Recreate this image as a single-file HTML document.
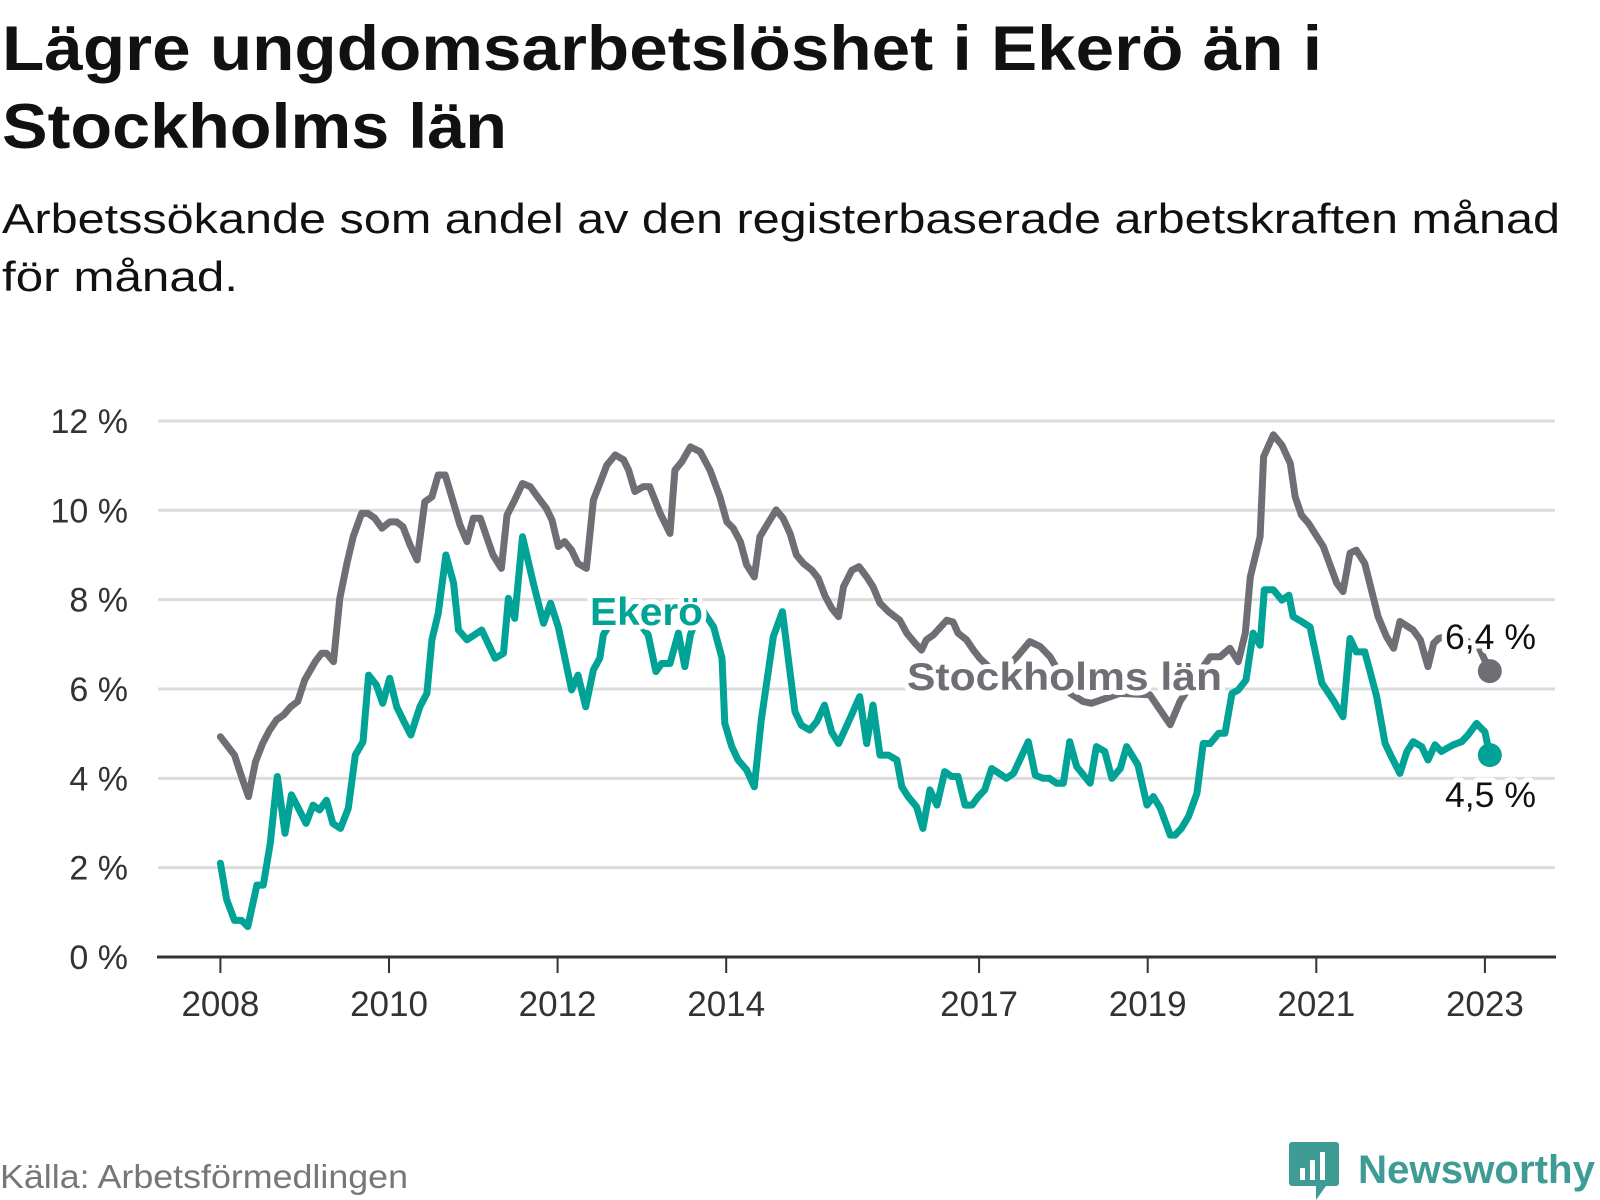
<!DOCTYPE html>
<html><head><meta charset="utf-8"><style>
html,body{margin:0;padding:0;background:#fff;}
svg{display:block;font-family:"Liberation Sans","DejaVu Sans",sans-serif;}
</style></head><body>
<svg id="chart" width="1600" height="1200" viewBox="0 0 1600 1200">
<text x="2" y="70" font-size="63" font-weight="bold" fill="#111" textLength="1320" lengthAdjust="spacingAndGlyphs">Lägre ungdomsarbetslöshet i Ekerö än i</text>
<text x="2" y="148" font-size="63" font-weight="bold" fill="#111" textLength="505" lengthAdjust="spacingAndGlyphs">Stockholms län</text>
<text x="2" y="233" font-size="42" fill="#111" textLength="1558" lengthAdjust="spacingAndGlyphs">Arbetssökande som andel av den registerbaserade arbetskraften månad</text>
<text x="2" y="291" font-size="42" fill="#111" textLength="236" lengthAdjust="spacingAndGlyphs">för månad.</text>
<g id="grid"></g>
<g id="xaxis"></g>
<g id="series"></g>
<g id="labels"></g>
<text x="0" y="1188" font-size="33" fill="#777" textLength="408" lengthAdjust="spacingAndGlyphs">Källa: Arbetsförmedlingen</text>
<g>
<path d="M1292 1142 h44 a3 3 0 0 1 3 3 v38 a3 3 0 0 1 -3 3 h-10 l-10 14 v-14 h-24 a3 3 0 0 1 -3 -3 v-38 a3 3 0 0 1 3 -3z" fill="#3e9c94"/>
<rect x="1300" y="1168" width="5" height="12" fill="#fff"/>
<rect x="1310" y="1160" width="5" height="20" fill="#fff"/>
<rect x="1320" y="1152" width="5" height="28" fill="#fff"/>
<text x="1358" y="1183" font-size="40" font-weight="bold" fill="#3e9c94" textLength="237" lengthAdjust="spacingAndGlyphs">Newsworthy</text>
</g>
</svg>
<script>
// ---- data ----
const yTicks = [0, 2, 4, 6, 8, 10, 12];
const yTickLabels = ["0 %", "2 %", "4 %", "6 %", "8 %", "10 %", "12 %"];
const xTickYears = [2008, 2010, 2012, 2014, 2017, 2019, 2021, 2023];
const xTickLabels = ["2008", "2010", "2012", "2014", "2017", "2019", "2021", "2023"];
// months since Jan 2008
const stockholmMonths = [0,2,3,4,5,6,7,8,9,10,11,12,13.5,14.4,15.1,16.1,17,18,18.9,20.1,21,22,23,24.1,25.1,26,27,28,29.1,30.1,31,32,33.2,34.1,35.1,36,37,37.9,38.8,40,40.8,41.9,43,44.1,45.3,46.4,47.2,48.1,49,50,50.9,52.1,53.1,54,55,56.2,57.4,58.1,59,60.2,61.1,62.6,64,64.7,65.7,66.9,68.3,69.7,71.1,72.1,73,74,74.9,76,76.8,77.8,79.1,80.1,81.1,82,83,84.2,85.1,86.1,87,88,88.7,89.9,90.9,92,92.9,93.9,95.1,96.7,97.7,98.9,99.8,100.5,101.5,103.4,104.3,105,106.2,107.2,108.1,110,112,113.4,115.2,116.7,118.1,120,121,122.8,124,128,132.3,135.2,136.6,139,140.9,142.3,143.7,144.9,145.9,146.6,148,148.5,149.9,151.1,152.3,153,153.9,154.9,156.1,157,158.9,159.8,160.8,161.7,162.9,164.8,166,167,167.9,169.8,170.8,171.9,172.7,173.4,175,177,179.1,180.7];
const stockholmValues = [4.93,4.52,4.04,3.59,4.37,4.78,5.08,5.31,5.42,5.6,5.72,6.2,6.61,6.8,6.8,6.61,8.03,8.81,9.41,9.93,9.93,9.82,9.6,9.74,9.74,9.63,9.22,8.89,10.19,10.3,10.79,10.79,10.16,9.67,9.3,9.82,9.82,9.41,9.0,8.7,9.89,10.23,10.6,10.53,10.27,10.04,9.78,9.19,9.3,9.11,8.81,8.7,10.23,10.6,11.01,11.24,11.13,10.9,10.42,10.53,10.53,9.93,9.48,10.9,11.09,11.42,11.31,10.9,10.3,9.74,9.6,9.3,8.78,8.51,9.41,9.67,10.01,9.82,9.48,9.0,8.81,8.66,8.48,8.07,7.81,7.62,8.29,8.66,8.74,8.51,8.29,7.92,7.73,7.54,7.25,7.02,6.87,7.1,7.21,7.54,7.5,7.25,7.1,6.87,6.69,6.4,6.5,6.72,7.06,6.95,6.72,6.2,5.9,5.72,5.68,5.9,5.87,5.2,5.72,6.3,6.72,6.72,6.91,6.61,7.25,8.51,9.41,11.2,11.69,11.46,11.05,10.3,9.89,9.71,9.41,9.19,8.37,8.18,9.04,9.11,8.81,7.62,7.17,6.91,7.51,7.32,7.1,6.5,7.02,7.13,7.2,7.1,6.95,6.4];
const ekeroMonths = [0,0.9,2,3,3.9,5.2,6.1,7.1,8.1,9.2,10.1,11.1,12.2,13.2,14.1,15.1,16,17.1,18.2,19.2,20.3,21.1,22.2,23.1,24.1,25.1,26,27.1,28.4,29.4,30.1,31,32.1,33.2,33.9,35.1,37.2,39.1,40.3,41,41.9,43,44.5,46,47,48.1,50,50.9,52,53.1,54,54.5,56,58,60.9,62,62.8,64,65.2,66.1,66.9,68.3,70.2,71.4,71.8,72.8,73.7,74.9,76,77,78.7,80,81.8,82.7,83.9,84.9,86,87,88,89.2,91,92,92.9,93.9,95.1,96.3,97,97.9,99.1,100,101,102,103.1,104.1,105,106,107,107.9,108.8,109.8,111.9,112.9,115,116,117.1,118,119,120,120.9,121.9,123.8,124.7,125.9,126.9,128.1,129,130.6,131.9,132.8,133.8,135.2,135.9,136.8,137.8,139,139.9,140.9,142.1,143,144,144.9,146,147,148,148.6,149.9,151.1,152.1,152.7,153.9,155.1,156.8,158.4,159.8,160.8,161.7,162.9,164.6,165.8,166.7,167.9,168.9,169.8,171,171.9,172.9,173.8,175.5,176.7,177.6,178.8,180,180.7];
const ekeroValues = [2.1,1.28,0.82,0.82,0.68,1.61,1.61,2.55,4.04,2.77,3.63,3.33,2.99,3.4,3.29,3.51,2.99,2.88,3.33,4.52,4.82,6.31,6.09,5.68,6.24,5.6,5.31,4.97,5.6,5.9,7.1,7.69,9.0,8.37,7.32,7.1,7.32,6.69,6.8,8.03,7.58,9.41,8.4,7.47,7.92,7.39,5.98,6.31,5.6,6.43,6.69,7.21,7.6,7.8,7.21,6.39,6.57,6.57,7.25,6.5,7.21,7.84,7.39,6.69,5.23,4.71,4.41,4.19,3.81,5.31,7.17,7.73,5.49,5.19,5.08,5.27,5.64,5.04,4.78,5.19,5.83,4.78,5.64,4.52,4.52,4.41,3.81,3.59,3.36,2.88,3.74,3.4,4.15,4.04,4.04,3.4,3.4,3.59,3.74,4.22,4.0,4.11,4.82,4.07,4.0,4.0,3.89,3.89,4.82,4.26,3.89,4.71,4.6,4.0,4.22,4.71,4.3,3.4,3.59,3.33,2.73,2.73,2.88,3.14,3.66,4.78,4.78,5.01,5.01,5.9,5.98,6.2,7.25,6.98,8.22,8.22,7.99,8.1,7.62,7.51,7.39,6.13,5.75,5.38,7.13,6.83,6.83,5.83,4.78,4.48,4.11,4.6,4.82,4.71,4.41,4.75,4.6,4.75,4.82,4.97,5.23,5.04,4.52];
const lastLabels = ["6,4 %", "4,5 %"];

// ---- axes ----
const X0 = 220.4, PX_YEAR = 84.3, Y0 = 957, PX_PCT = 44.67;
const xYear = y => X0 + (y - 2008) * PX_YEAR;
const xMonth = m => X0 + m * PX_YEAR / 12;
const yVal = v => Y0 - v * PX_PCT;
const NS = "http://www.w3.org/2000/svg";
function mk(tag, attrs, parent) {
  const e = document.createElementNS(NS, tag);
  for (const k in attrs) e.setAttribute(k, attrs[k]);
  parent.appendChild(e);
  return e;
}
const grid = document.getElementById("grid");
yTicks.forEach((t, i) => {
  if (t > 0) {
    const l = mk("line", {x1: 158, x2: 1555, y1: yVal(t), y2: yVal(t), stroke: "#dcdcdc", "stroke-width": 3}, grid);
    
    
  }
  const tx = mk("text", {x: 128, y: yVal(t) + 12, "font-size": 34, fill: "#333", "text-anchor": "end"}, grid);
  tx.textContent = yTickLabels[i];
  
  
});
const xa = document.getElementById("xaxis");
const axl = mk("line", {x1: 157, x2: 1556, y1: Y0, y2: Y0, stroke: "#333", "stroke-width": 3}, xa);


xTickYears.forEach((yr, i) => {
  const x = xYear(yr);
  const tk = mk("line", {x1: x, x2: x, y1: Y0, y2: Y0 + 16, stroke: "#333", "stroke-width": 2}, xa);
  
  
  const tx = mk("text", {x: x, y: 1016, "font-size": 35, fill: "#333", "text-anchor": "middle"}, xa);
  tx.textContent = xTickLabels[i];
  
  
});
// ---- series ----
const sg = document.getElementById("series");
function line(ms, vs, color, name) {
  const d = ms.map((m, i) => (i ? "L" : "M") + xMonth(m).toFixed(1) + " " + yVal(vs[i]).toFixed(1)).join(" ");
  const p = mk("path", {d: d, fill: "none", stroke: color, "stroke-width": 7, "stroke-linejoin": "round", "stroke-linecap": "round"}, sg);
  
  
  const n = ms.length - 1;
  const c = mk("circle", {cx: xMonth(ms[n]), cy: yVal(vs[n]), r: 12, fill: color}, sg);
  
  
}
line(stockholmMonths, stockholmValues, "#6f6e74", "stockholm-line");
line(ekeroMonths, ekeroValues, "#00a396", "ekero-line");
// ---- labels ----
const lg = document.getElementById("labels");
function label(x, y, txt, size, weight, color, name, anchor, len) {
  const a = {x: x, y: y, "font-size": size, "font-weight": weight, fill: color, stroke: "#fff", "stroke-width": 10, "paint-order": "stroke", "stroke-linejoin": "round", "text-anchor": anchor || "start"};
  if (len) { a.textLength = len; a.lengthAdjust = "spacingAndGlyphs"; }
  const t = mk("text", a, lg);
  t.textContent = txt;
  
  
}
label(590, 625, "Ekerö", 39, "bold", "#00a396", "ekero-series-label", "start", 113);
label(907, 690, "Stockholms län", 39, "bold", "#6f6e74", "stockholm-series-label", "start", 315);
const sn = stockholmValues.length - 1, en = ekeroValues.length - 1;
label(1536, yVal(stockholmValues[sn]) - 22, lastLabels[0], 35, "normal", "#111", "stockholm-last-value", "end", 91);
label(1536, yVal(ekeroValues[en]) + 52, lastLabels[1], 35, "normal", "#111", "ekero-last-value", "end", 91);
</script>
</body></html>
